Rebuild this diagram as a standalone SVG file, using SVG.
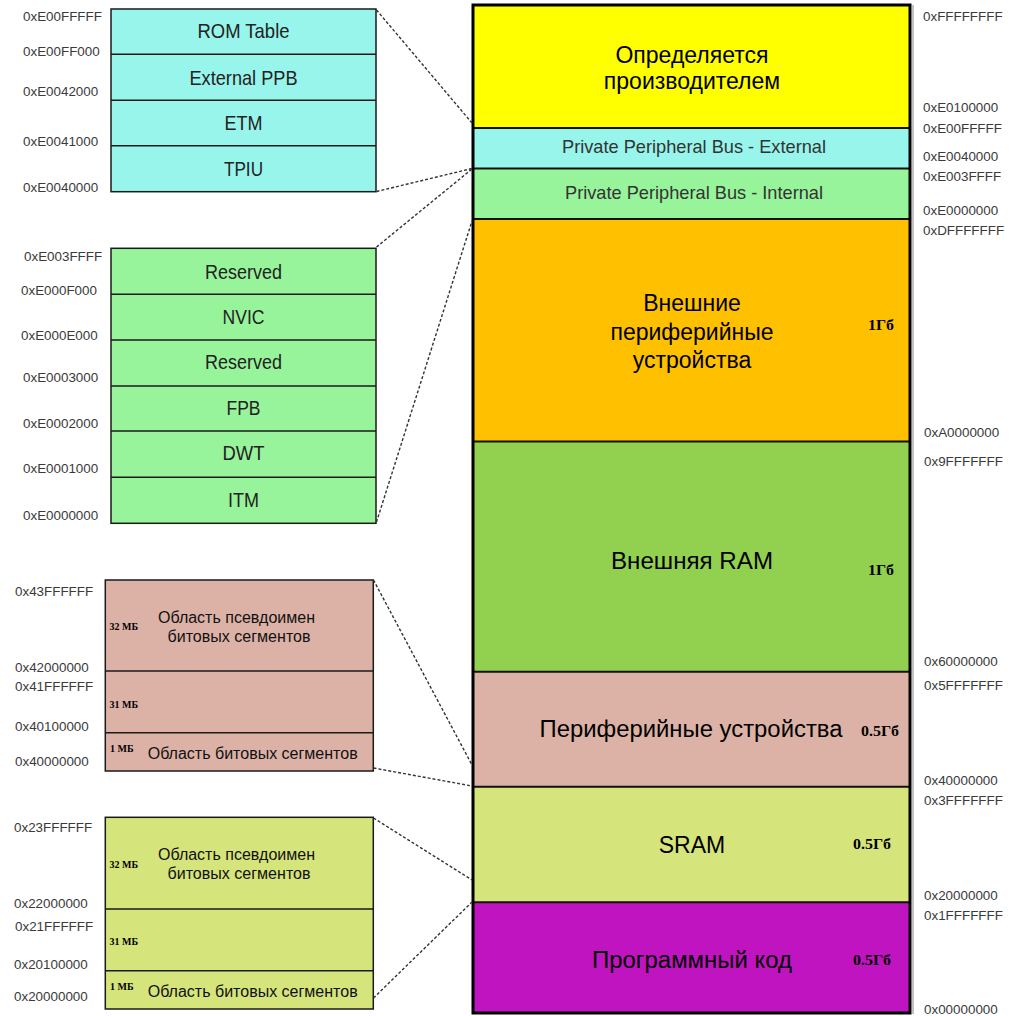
<svg xmlns="http://www.w3.org/2000/svg" width="1024" height="1016" viewBox="0 0 1024 1016">
  <style>
    .addr { font-family: "Liberation Sans", Arial, sans-serif; font-size: 13.4px; fill: #3a3a3a; }
    .cell { font-family: "Liberation Sans", Arial, sans-serif; font-size: 21px; fill: #222; text-anchor: middle; }
    .band { font-family: "Liberation Sans", Arial, sans-serif; font-size: 16px; fill: #111; text-anchor: middle; }
    .main { font-family: "Liberation Sans", Arial, sans-serif; font-size: 23px; fill: #000; text-anchor: middle; }
    .ppb { font-family: "Liberation Sans", Arial, sans-serif; font-size: 19px; fill: #333; text-anchor: middle; }
    .size { font-family: "Liberation Serif", "Times New Roman", serif; font-size: 15px; font-weight: bold; fill: #000; }
    .mb { font-family: "Liberation Serif", "Times New Roman", serif; font-size: 10px; font-weight: bold; fill: #000; }
    .box { stroke: #1a1a1a; stroke-width: 1.5; }
    .div { stroke: #111; stroke-width: 2; }
    .link { fill: none; stroke: #333; stroke-width: 1.4; stroke-dasharray: 3 2; }
  </style>

  <rect width="1024" height="1016" fill="#fff"/>

  <!-- Main memory map column -->
  <g id="memory-map">
    <rect x="473" y="5" width="437" height="123" fill="#ffff00"/>
    <rect x="473" y="128" width="437" height="40.5" fill="#98f5ec"/>
    <rect x="473" y="168.5" width="437" height="50.5" fill="#98f49a"/>
    <rect x="473" y="219" width="437" height="222.5" fill="#ffc000"/>
    <rect x="473" y="441.5" width="437" height="230.2" fill="#92d050"/>
    <rect x="473" y="671.7" width="437" height="115" fill="#ddb2a6"/>
    <rect x="473" y="786.7" width="437" height="115.6" fill="#d5e47b"/>
    <rect x="473" y="902.3" width="437" height="110.7" fill="#c014c0"/>

    <line class="div" x1="473" y1="128" x2="910" y2="128"/>
    <line class="div" x1="473" y1="168.5" x2="910" y2="168.5"/>
    <line class="div" x1="473" y1="219" x2="910" y2="219"/>
    <line class="div" x1="473" y1="441.5" x2="910" y2="441.5"/>
    <line class="div" x1="473" y1="671.7" x2="910" y2="671.7"/>
    <line class="div" x1="473" y1="786.7" x2="910" y2="786.7"/>
    <line class="div" x1="473" y1="902.3" x2="910" y2="902.3"/>
    <rect x="473" y="5" width="437" height="1008" fill="none" stroke="#000" stroke-width="3"/>
    <line x1="913" y1="5" x2="913" y2="1014" stroke="#888" stroke-width="1"/>
  </g>

  <g id="vendor">
    <text class="main" x="692" y="63">Определяется</text>
    <text class="main" x="692" y="89">производителем</text>
  </g>
  <g id="ppb-external">
    <text class="ppb" x="694" y="153" textLength="264" lengthAdjust="spacingAndGlyphs">Private Peripheral Bus - External</text>
  </g>
  <g id="ppb-internal">
    <text class="ppb" x="694" y="199" textLength="258" lengthAdjust="spacingAndGlyphs">Private Peripheral Bus - Internal</text>
  </g>
  <g id="ext-devices">
    <text class="main" x="692" y="311">Внешние</text>
    <text class="main" x="692" y="340">периферийные</text>
    <text class="main" x="692" y="368">устройства</text>
    <text class="size" x="868" y="330" textLength="26" lengthAdjust="spacingAndGlyphs">1Гб</text>
  </g>
  <g id="ext-ram">
    <text class="main" x="692" y="569" textLength="162" lengthAdjust="spacingAndGlyphs">Внешняя  RAM</text>
    <text class="size" x="868" y="575" textLength="26" lengthAdjust="spacingAndGlyphs">1Гб</text>
  </g>
  <g id="peripherals">
    <text class="main" x="691" y="737" textLength="303" lengthAdjust="spacingAndGlyphs">Периферийные устройства</text>
    <text class="size" x="861" y="736" textLength="38" lengthAdjust="spacingAndGlyphs">0.5Гб</text>
  </g>
  <g id="sram">
    <text class="main" x="692" y="853">SRAM</text>
    <text class="size" x="853" y="849" textLength="38" lengthAdjust="spacingAndGlyphs">0.5Гб</text>
  </g>
  <g id="code">
    <text class="main" x="692" y="968" textLength="200" lengthAdjust="spacingAndGlyphs">Программный код</text>
    <text class="size" x="853" y="965" textLength="38" lengthAdjust="spacingAndGlyphs">0.5Гб</text>
  </g>

  <!-- Address marks on the right of the column -->
  <g id="map-addresses" class="addr">
    <text x="923" y="21">0xFFFFFFFF</text>
    <text x="923" y="112">0xE0100000</text>
    <text x="923" y="133">0xE00FFFFF</text>
    <text x="923" y="161">0xE0040000</text>
    <text x="923" y="181">0xE003FFFF</text>
    <text x="923" y="215">0xE0000000</text>
    <text x="923" y="235">0xDFFFFFFF</text>
    <text x="924" y="437">0xA0000000</text>
    <text x="924" y="466">0x9FFFFFFF</text>
    <text x="924" y="666">0x60000000</text>
    <text x="924" y="690">0x5FFFFFFF</text>
    <text x="924" y="785">0x40000000</text>
    <text x="924" y="805">0x3FFFFFFF</text>
    <text x="924" y="900">0x20000000</text>
    <text x="924" y="920">0x1FFFFFFF</text>
    <text x="924" y="1014">0x00000000</text>
  </g>

  <!-- External PPB detail -->
  <g id="ppb-external-detail">
    <rect class="box" x="111" y="9" width="265" height="182.7" fill="#98f5ec"/>
    <line class="box" x1="111" y1="54.3" x2="376" y2="54.3"/>
    <line class="box" x1="111" y1="100.3" x2="376" y2="100.3"/>
    <line class="box" x1="111" y1="145.7" x2="376" y2="145.7"/>
    <text class="cell" x="243.5" y="38" textLength="92" lengthAdjust="spacingAndGlyphs">ROM Table</text>
    <text class="cell" x="243.5" y="85" textLength="108" lengthAdjust="spacingAndGlyphs">External PPB</text>
    <text class="cell" x="243.5" y="129.5" textLength="38" lengthAdjust="spacingAndGlyphs">ETM</text>
    <text class="cell" x="243.5" y="176" textLength="39" lengthAdjust="spacingAndGlyphs">TPIU</text>
    <g class="addr">
      <text x="23" y="21">0xE00FFFFF</text>
      <text x="23" y="56">0xE00FF000</text>
      <text x="23" y="96">0xE0042000</text>
      <text x="23" y="146">0xE0041000</text>
      <text x="23" y="192">0xE0040000</text>
    </g>
  </g>

  <!-- Internal PPB detail -->
  <g id="ppb-internal-detail">
    <rect class="box" x="111" y="248.3" width="265" height="275" fill="#98f49a"/>
    <line class="box" x1="111" y1="294.3" x2="376" y2="294.3"/>
    <line class="box" x1="111" y1="340" x2="376" y2="340"/>
    <line class="box" x1="111" y1="386" x2="376" y2="386"/>
    <line class="box" x1="111" y1="431" x2="376" y2="431"/>
    <line class="box" x1="111" y1="477.3" x2="376" y2="477.3"/>
    <text class="cell" x="243.5" y="279" textLength="77" lengthAdjust="spacingAndGlyphs">Reserved</text>
    <text class="cell" x="243.5" y="323.5" textLength="42" lengthAdjust="spacingAndGlyphs">NVIC</text>
    <text class="cell" x="243.5" y="368.5" textLength="77" lengthAdjust="spacingAndGlyphs">Reserved</text>
    <text class="cell" x="243.5" y="415" textLength="34" lengthAdjust="spacingAndGlyphs">FPB</text>
    <text class="cell" x="243.5" y="460" textLength="42" lengthAdjust="spacingAndGlyphs">DWT</text>
    <text class="cell" x="243.5" y="506.5" textLength="31" lengthAdjust="spacingAndGlyphs">ITM</text>
    <g class="addr">
      <text x="24" y="260.5">0xE003FFFF</text>
      <text x="21" y="294.5">0xE000F000</text>
      <text x="21" y="339.5">0xE000E000</text>
      <text x="23" y="381.5">0xE0003000</text>
      <text x="23" y="428">0xE0002000</text>
      <text x="23" y="473">0xE0001000</text>
      <text x="23" y="519.5">0xE0000000</text>
    </g>
  </g>

  <!-- Peripheral bit-band detail -->
  <g id="periph-bitband">
    <rect class="box" x="105.3" y="580" width="268" height="191" fill="#ddb2a6"/>
    <line class="box" x1="105.3" y1="671" x2="373.3" y2="671"/>
    <line class="box" x1="105.3" y1="732.7" x2="373.3" y2="732.7"/>
    <text class="mb" x="109.5" y="630">32 МБ</text>
    <text class="band" x="236.5" y="622.5" textLength="157" lengthAdjust="spacingAndGlyphs">Область псевдоимен</text>
    <text class="band" x="239" y="641.5" textLength="143" lengthAdjust="spacingAndGlyphs">битовых сегментов</text>
    <text class="mb" x="109.5" y="707.5">31 МБ</text>
    <text class="mb" x="110" y="752">1 МБ</text>
    <text class="band" x="252.7" y="759" textLength="210" lengthAdjust="spacingAndGlyphs">Область битовых сегментов</text>
    <g class="addr">
      <text x="15" y="596">0x43FFFFFF</text>
      <text x="15" y="672">0x42000000</text>
      <text x="15" y="691">0x41FFFFFF</text>
      <text x="15" y="731">0x40100000</text>
      <text x="15" y="765.5">0x40000000</text>
    </g>
  </g>

  <!-- SRAM bit-band detail -->
  <g id="sram-bitband">
    <rect class="box" x="105.3" y="817.3" width="268" height="191.7" fill="#d5e47b"/>
    <line class="box" x1="105.3" y1="909" x2="373.3" y2="909"/>
    <line class="box" x1="105.3" y1="970.7" x2="373.3" y2="970.7"/>
    <text class="mb" x="109.5" y="867.5">32 МБ</text>
    <text class="band" x="236.5" y="860" textLength="157" lengthAdjust="spacingAndGlyphs">Область псевдоимен</text>
    <text class="band" x="239" y="879" textLength="143" lengthAdjust="spacingAndGlyphs">битовых сегментов</text>
    <text class="mb" x="109.5" y="944.5">31 МБ</text>
    <text class="mb" x="110" y="990">1 МБ</text>
    <text class="band" x="252.7" y="996.5" textLength="210" lengthAdjust="spacingAndGlyphs">Область битовых сегментов</text>
    <g class="addr">
      <text x="14" y="832">0x23FFFFFF</text>
      <text x="14" y="908">0x22000000</text>
      <text x="15" y="931">0x21FFFFFF</text>
      <text x="14" y="969">0x20100000</text>
      <text x="14" y="1001">0x20000000</text>
    </g>
  </g>

  <!-- Dashed zoom lines from detail blocks to the map -->
  <g id="connectors">
    <line class="link" x1="376.5" y1="10" x2="472" y2="123"/>
    <line class="link" x1="376.5" y1="191.5" x2="472" y2="168.5"/>
    <line class="link" x1="376.5" y1="247" x2="472" y2="169"/>
    <line class="link" x1="376.5" y1="522" x2="472" y2="221"/>
    <line class="link" x1="373.5" y1="580" x2="472" y2="765"/>
    <line class="link" x1="373.5" y1="768" x2="472" y2="786"/>
    <line class="link" x1="373.5" y1="818" x2="472" y2="880"/>
    <line class="link" x1="373.5" y1="998" x2="472" y2="902"/>
  </g>
</svg>
